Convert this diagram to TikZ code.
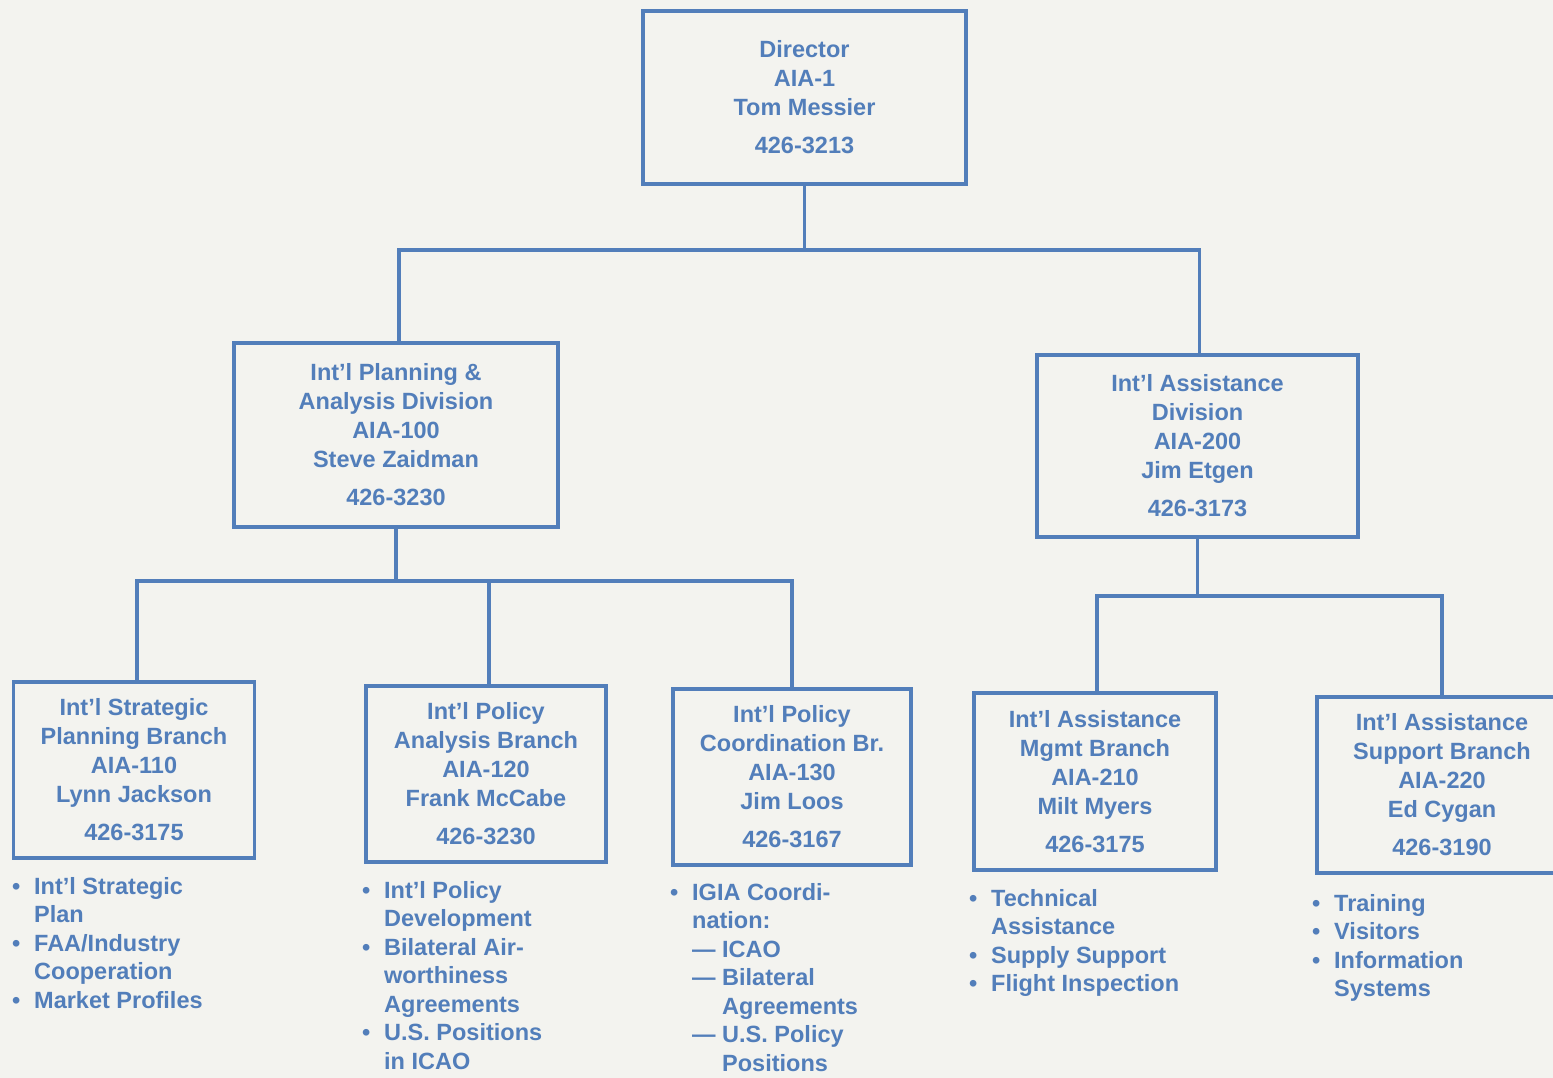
\documentclass[tikz,border=0pt]{standalone}
\usepackage{fontspec}
\setmainfont{Liberation Sans}
\definecolor{ink}{RGB}{82,126,186}
\definecolor{paper}{RGB}{243,243,239}
\newcommand\bul{\makebox[22pt][l]{\textbullet}}
\newcommand\ind{\hspace*{22pt}}
\newcommand\dsh{\makebox[30pt][l]{---}}
\begin{document}
\begin{tikzpicture}[x=1pt,y=-1pt,
 every node/.style={font=\fontsize{23.5}{29}\selectfont\bfseries, text=ink},
 box/.style={draw=ink, line width=3.5pt, align=center, inner sep=0pt},
 itemlist/.style={align=left, inner sep=0pt, anchor=north west, font=\fontsize{23.5}{28.5}\selectfont\bfseries},
 conn/.style={draw=ink, line width=3.5pt, line cap=rect, line join=miter}]
\fill[paper] (0,0) rectangle (1553,1078);
\useasboundingbox (0,0) rectangle (1553,1078);

\node[box, minimum width=323, minimum height=173] (dir) at (804.5,97.5) {Director\\AIA-1\\Tom Messier\\[9pt]426-3213};
\node[box, minimum width=324, minimum height=184] (pad) at (396,435) {Int’l Planning \&\\Analysis Division\\AIA-100\\Steve Zaidman\\[9pt]426-3230};
\node[box, minimum width=321, minimum height=182] (iad) at (1197.5,446) {Int’l Assistance\\Division\\AIA-200\\Jim Etgen\\[9pt]426-3173};

\node[box, minimum width=241, minimum height=176] (b110) at (134,770) {Int’l Strategic\\Planning Branch\\AIA-110\\Lynn Jackson\\[9pt]426-3175};
\node[box, minimum width=240, minimum height=176] (b120) at (486,774) {Int’l Policy\\Analysis Branch\\AIA-120\\Frank McCabe\\[9pt]426-3230};
\node[box, minimum width=238, minimum height=176] (b130) at (792,777) {Int’l Policy\\Coordination Br.\\AIA-130\\Jim Loos\\[9pt]426-3167};
\node[box, minimum width=242, minimum height=177] (b210) at (1095,781.5) {Int’l Assistance\\Mgmt Branch\\AIA-210\\Milt Myers\\[9pt]426-3175};
\node[box, minimum width=250, minimum height=176] (b220) at (1442,785) {Int’l Assistance\\Support Branch\\AIA-220\\Ed Cygan\\[9pt]426-3190};

\draw[conn] (dir.south) -- (dir.south |- 0,250);
\draw[conn] ([xshift=3pt]pad.north) |- ([xshift=2pt]iad.north |- 0,250) -- ([xshift=2pt]iad.north);
\draw[conn] (pad.south) -- (pad.south |- 0,581);
\draw[conn] ([xshift=3pt]b110.north) |- (b130.north |- 0,581) -- (b130.north);
\draw[conn] ([xshift=3pt]b120.north) -- ([xshift=3pt]b120.north |- 0,581);
\draw[conn] (iad.south) -- (iad.south |- 0,596);
\draw[conn] ([xshift=2pt]b210.north) |- (b220.north |- 0,596) -- (b220.north);

\node[itemlist] (l110) at (12,877) {\bul Int’l Strategic\\\ind Plan\\\bul FAA/Industry\\\ind Cooperation\\\bul Market Profiles};
\node[itemlist] (l120) at (362,881) {\bul Int’l Policy\\\ind Development\\\bul Bilateral Air-\\\ind worthiness\\\ind Agreements\\\bul U.S. Positions\\\ind in ICAO};
\node[itemlist] (l130) at (670,883) {\bul IGIA Coordi-\\\ind nation:\\\ind\dsh ICAO\\\ind\dsh Bilateral\\\ind\hspace*{30pt}Agreements\\\ind\dsh U.S. Policy\\\ind\hspace*{30pt}Positions};
\node[itemlist] (l210) at (969,889) {\bul Technical\\\ind Assistance\\\bul Supply Support\\\bul Flight Inspection};
\node[itemlist] (l220) at (1312,894) {\bul Training\\\bul Visitors\\\bul Information\\\ind Systems};
\end{tikzpicture}
\end{document}
